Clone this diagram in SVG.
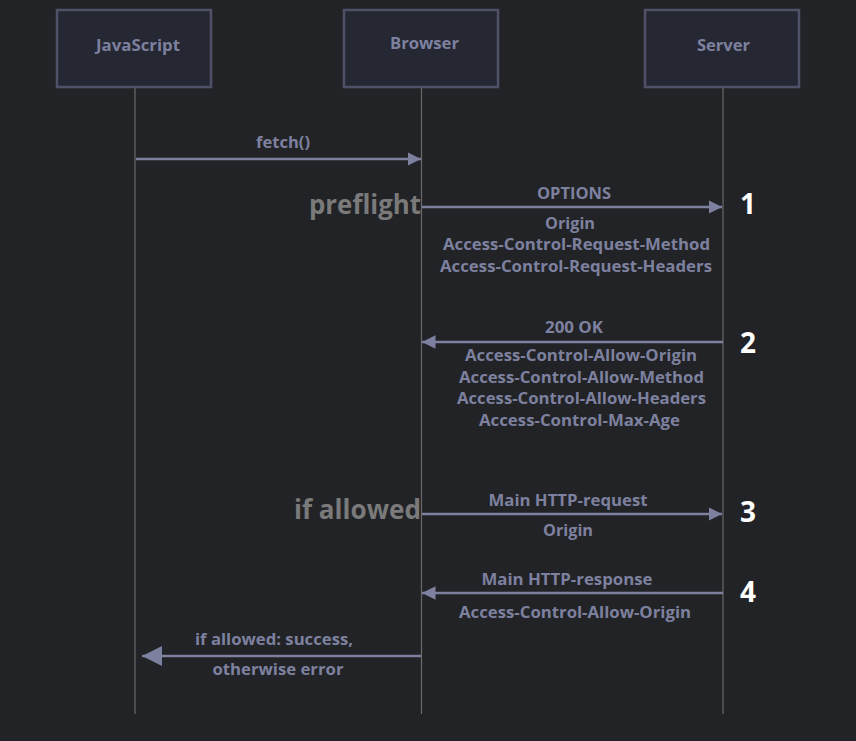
<svg xmlns="http://www.w3.org/2000/svg" width="856" height="741" viewBox="0 0 856 741">
<defs>
<style>
.box{fill:#252733;stroke:#4f5168;stroke-width:2.5}
.life{stroke:#6a6a6a;stroke-width:1.2}
.msg{stroke:#7d819f;stroke-width:2.5;fill:none}
.t{font-family:"Open Sans","Noto Sans",sans-serif;font-weight:700;fill:#7d819f;text-anchor:middle}
.lbl{font-size:16px}
.name{font-size:16px}
.big{font-family:"Open Sans","Noto Sans",sans-serif;font-weight:700;font-size:26px;fill:#7a7a7a;text-anchor:end}
.num{font-family:"Open Sans","Noto Sans",sans-serif;font-weight:700;font-size:28px;fill:#ffffff;text-anchor:middle}
</style>
<marker id="ah" viewBox="0 0 10 10" refX="10" refY="5" markerWidth="5.4" markerHeight="5.4" orient="auto" markerUnits="strokeWidth"><path d="M0,0 L10,5 L0,10 Z" fill="#7d819f"/></marker>
<marker id="ahb" viewBox="0 0 10 10" refX="10" refY="5" markerWidth="8.6" markerHeight="8" orient="auto" markerUnits="strokeWidth"><path d="M0,0 L10,5 L0,10 Z" fill="#7d819f"/></marker>
</defs>
<rect width="856" height="741" fill="#222326"/>
<g id="lifelines">
<line class="life" x1="135" y1="88" x2="135" y2="714"/>
<line class="life" x1="421.5" y1="88" x2="421.5" y2="714"/>
<line class="life" x1="723" y1="88" x2="723" y2="714"/>
</g>
<g id="javascript"><rect class="box" x="57" y="10" width="154" height="77"/><text class="t name" x="138" y="51" textLength="84" lengthAdjust="spacingAndGlyphs">JavaScript</text></g>
<g id="browser"><rect class="box" x="344" y="10" width="154" height="77"/><text class="t name" x="424.5" y="49" textLength="69" lengthAdjust="spacingAndGlyphs">Browser</text></g>
<g id="server"><rect class="box" x="645" y="10" width="154" height="77"/><text class="t name" x="723.5" y="51" textLength="53" lengthAdjust="spacingAndGlyphs">Server</text></g>
<g id="connectors">
<line class="msg" x1="136" y1="159" x2="421" y2="159" marker-end="url(#ah)"/>
<line class="msg" x1="422" y1="207" x2="722" y2="207" marker-end="url(#ah)"/>
<line class="msg" x1="723" y1="342" x2="422" y2="342" marker-end="url(#ah)"/>
<line class="msg" x1="422" y1="514" x2="722" y2="514" marker-end="url(#ah)"/>
<line class="msg" x1="723" y1="593" x2="422" y2="593" marker-end="url(#ah)"/>
<line class="msg" x1="421" y1="656" x2="142" y2="656" marker-end="url(#ahb)"/>
</g>
<g id="labels">
<text class="t lbl" x="283" y="148" textLength="54" lengthAdjust="spacingAndGlyphs">fetch()</text>
<text class="big" x="421" y="214" textLength="112" lengthAdjust="spacingAndGlyphs">preflight</text>
<text class="t lbl" x="574" y="199" textLength="74" lengthAdjust="spacingAndGlyphs">OPTIONS</text>
<text class="t lbl" x="570" y="229" textLength="50" lengthAdjust="spacingAndGlyphs">Origin</text>
<text class="t lbl" x="576.5" y="250" textLength="267" lengthAdjust="spacingAndGlyphs">Access-Control-Request-Method</text>
<text class="t lbl" x="576" y="272" textLength="272" lengthAdjust="spacingAndGlyphs">Access-Control-Request-Headers</text>
<text class="num" x="748" y="214">1</text>
<text class="t lbl" x="574" y="333" textLength="58" lengthAdjust="spacingAndGlyphs">200 OK</text>
<text class="t lbl" x="581" y="361" textLength="232" lengthAdjust="spacingAndGlyphs">Access-Control-Allow-Origin</text>
<text class="t lbl" x="581.5" y="383" textLength="245" lengthAdjust="spacingAndGlyphs">Access-Control-Allow-Method</text>
<text class="t lbl" x="581.5" y="404" textLength="249" lengthAdjust="spacingAndGlyphs">Access-Control-Allow-Headers</text>
<text class="t lbl" x="579.5" y="426" textLength="201" lengthAdjust="spacingAndGlyphs">Access-Control-Max-Age</text>
<text class="num" x="748" y="353">2</text>
<text class="big" x="421" y="519" textLength="127" lengthAdjust="spacingAndGlyphs">if allowed</text>
<text class="t lbl" x="568" y="506" textLength="159" lengthAdjust="spacingAndGlyphs">Main HTTP-request</text>
<text class="t lbl" x="568" y="536" textLength="50" lengthAdjust="spacingAndGlyphs">Origin</text>
<text class="num" x="748" y="522" textLength="16" lengthAdjust="spacingAndGlyphs">3</text>
<text class="t lbl" x="567" y="585" textLength="171" lengthAdjust="spacingAndGlyphs">Main HTTP-response</text>
<text class="t lbl" x="575" y="618" textLength="232" lengthAdjust="spacingAndGlyphs">Access-Control-Allow-Origin</text>
<text class="num" x="748" y="602" textLength="16" lengthAdjust="spacingAndGlyphs">4</text>
<text class="t lbl" x="274" y="645" textLength="158" lengthAdjust="spacingAndGlyphs">if allowed: success,</text>
<text class="t lbl" x="278" y="675" textLength="131" lengthAdjust="spacingAndGlyphs">otherwise error</text>
</g>
</svg>
